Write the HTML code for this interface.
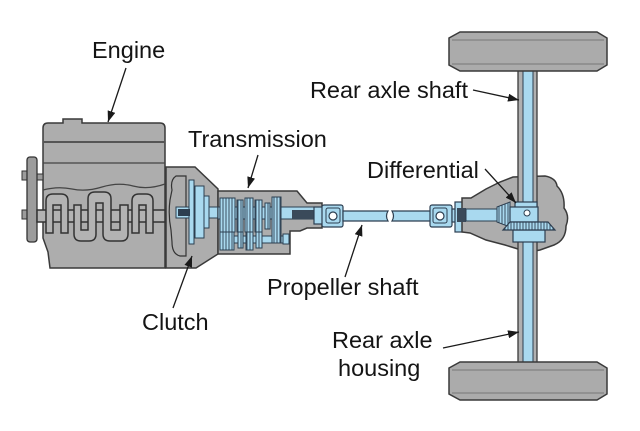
<!DOCTYPE html>
<html><head><meta charset="utf-8"><style>
html,body{margin:0;padding:0;background:#fff;}
svg{display:block;}
text{font-family:"Liberation Sans",Arial,sans-serif;font-size:23.5px;fill:#141414;}
</style></head><body>
<svg width="640" height="431" viewBox="0 0 640 431" xmlns="http://www.w3.org/2000/svg">
<defs>
<marker id="ah" markerUnits="userSpaceOnUse" markerWidth="12" markerHeight="8" refX="11" refY="4" orient="auto"><path d="M0,0 L11,4 L0,8 Z" fill="#1a1a1a"/></marker>
<pattern id="hatch" width="3" height="3" patternUnits="userSpaceOnUse"><rect width="3" height="3" fill="#a9d9ef"/><line x1="1" y1="0" x2="1" y2="3" stroke="#2c3e50" stroke-width="0.9"/></pattern>
</defs>
<rect width="640" height="431" fill="#fff"/>

<!-- ENGINE -->
<path d="M43,128 Q43,123 48,123 L63,123 L63,119 L82,119 L82,123 L160,123 Q165,123 165,128 L165,268 L50,268 L48,252 L43,238 Z" fill="#adadad" stroke="#3a3a3a" stroke-width="1.5"/>
<line x1="43" y1="142" x2="165" y2="142" stroke="#555" stroke-width="2"/>
<line x1="43" y1="163" x2="165" y2="163" stroke="#444" stroke-width="1.3"/>
<path d="M43,190 Q58,186 72,189 T102,187 T133,186 T165,184" fill="none" stroke="#444" stroke-width="1.2"/>
<!-- pulley -->
<rect x="37" y="174" width="6" height="6" fill="#9c9c9c" stroke="#333" stroke-width="1"/>
<rect x="22" y="171" width="6" height="9" fill="#9c9c9c" stroke="#333" stroke-width="1"/>
<rect x="22" y="210" width="6" height="9" fill="#9c9c9c" stroke="#333" stroke-width="1"/>
<rect x="27" y="157" width="10" height="85" rx="3" fill="#9c9c9c" stroke="#333" stroke-width="1.3"/>
<!-- crankshaft -->
<g fill="#b3b3b3" stroke="#333" stroke-width="1.5">
<rect x="37" y="210" width="128" height="12"/>
<path d="M46,233 L46,201 Q46,194 53,194 L61,194 Q68,194 68,201 L68,233 L61,233 L61,205 L53,205 L53,233 Z"/>
<path d="M74,205 L81,205 L81,230 L88,230 L88,199 Q88,192 95,192 L104,192 Q111,192 111,199 L111,230 L120,230 L120,205 L128,205 L128,234 Q128,241 121,241 L110,241 Q103,241 103,234 L103,203 L96,203 L96,234 Q96,241 89,241 L81,241 Q74,241 74,234 Z"/>
<path d="M132,233 L132,201 Q132,194 139,194 L146,194 Q153,194 153,201 L153,233 L146,233 L146,205 L139,205 L139,233 Z"/>
</g>

<!-- BELLHOUSING -->
<path d="M166,167 L195,167 L218,189 L218,254 L196,268 L166,268 Z" fill="#adadad" stroke="#3a3a3a" stroke-width="1.5"/>
<path d="M176,176 Q170,180 172,190 L170,200 Q168,215 171,230 L172,242 Q172,254 180,256 L186,256 L186,176 Z" fill="none" stroke="#333" stroke-width="1.2"/>
<!-- clutch -->
<g fill="#a9d9ef" stroke="#2c3e50" stroke-width="1">
<rect x="176" y="207" width="45" height="11"/>
<rect x="189" y="180" width="5" height="64"/>
<rect x="195" y="186" width="9" height="52"/>
<rect x="204" y="196" width="5" height="32"/>
</g>
<rect x="178" y="209" width="12" height="7" fill="#2c3e50"/>

<!-- TRANSMISSION -->
<path d="M218,191 L297,191 L307,203 L322,203 L322,228 L307,228 L300,231 L290,231 L290,254 L218,254 Z" fill="#adadad" stroke="#3a3a3a" stroke-width="1.5"/>
<g fill="#a9d9ef" stroke="#2c3e50" stroke-width="1">
<rect x="218" y="207" width="96" height="12"/>
<rect x="220" y="236" width="66" height="7"/>
<rect x="283" y="234" width="6" height="10"/>
</g>
<rect x="292" y="210" width="22" height="9" fill="#3a4a5a"/>
<g fill="url(#hatch)" stroke="#2c3e50" stroke-width="1">
<rect x="220" y="198" width="15" height="34"/>
<rect x="237" y="200" width="6" height="32"/>
<rect x="245" y="198" width="8" height="34"/>
<rect x="255" y="200" width="7" height="32"/>
<rect x="265" y="203" width="5" height="26"/>
<rect x="272" y="197" width="9" height="46"/>
<rect x="220" y="232" width="14" height="18"/>
<rect x="238" y="232" width="5" height="16"/>
<rect x="246" y="232" width="7" height="18"/>
<rect x="256" y="232" width="6" height="16"/>
</g>

<!-- PROPELLER SHAFT -->
<g fill="#a9d9ef" stroke="#2c3e50" stroke-width="1.2">
<rect x="314" y="207" width="9" height="17"/>
<rect x="322" y="205" width="21" height="22" rx="2"/>
<path d="M343,211 L388,211 Q385,216 388,221 L343,221 Z"/>
<path d="M392,211 L431,211 L431,221 L392,221 Q395,216 392,211 Z"/>
<rect x="430" y="205" width="22" height="22" rx="2"/>
<rect x="452" y="209" width="4" height="13"/>
<rect x="455" y="202" width="11" height="30"/>
</g>
<rect x="326" y="208" width="14" height="15" rx="2" fill="none" stroke="#2c3e50" stroke-width="1"/>
<rect x="433" y="208" width="14" height="15" rx="2" fill="none" stroke="#2c3e50" stroke-width="1"/>
<circle cx="333" cy="216" r="4" fill="#fff" stroke="#2c3e50" stroke-width="1.2"/>
<circle cx="440" cy="216" r="4" fill="#fff" stroke="#2c3e50" stroke-width="1.2"/>

<!-- DIFF HOUSING -->
<path d="M462,198 L471,198 L486,189 L500,182 L513,177 L545,176 Q556,178 557,186 Q565,194 564,208 Q570,216 566,226 Q566,240 554,245 L540,250 Q528,253 518,249 L505,245 L486,240 L470,233 L462,232 Z" fill="#adadad" stroke="#3a3a3a" stroke-width="1.5"/>
<rect x="457" y="208" width="9" height="14" fill="#3a4a5a"/>
<rect x="466" y="209" width="31" height="12" fill="#a9d9ef" stroke="#2c3e50" stroke-width="1"/>

<!-- AXLE -->
<rect x="518" y="70" width="19" height="293" fill="#b0b0b0" stroke="#3a3a3a" stroke-width="1.3"/>
<rect x="523" y="70" width="10" height="293" fill="#a9d9ef" stroke="#2c3e50" stroke-width="1"/>

<!-- DIFF INTERNALS -->
<path d="M497,207 L510,202 L510,227 L497,222 Z" fill="url(#hatch)" stroke="#2c3e50" stroke-width="1"/>
<g fill="#a9d9ef" stroke="#2c3e50" stroke-width="1.2">
<rect x="515" y="202" width="22" height="6"/>
<rect x="510" y="207" width="28" height="15"/>
<rect x="513" y="230" width="32" height="12"/>
</g>
<path d="M503,230 L510,222 L548,222 L555,230 Z" fill="url(#hatch)" stroke="#2c3e50" stroke-width="1.2"/>
<circle cx="527" cy="213" r="3" fill="#fff" stroke="#2c3e50" stroke-width="1"/>

<!-- WHEELS -->
<g fill="#ababab" stroke="#3a3a3a" stroke-width="1.5">
<path d="M449,38 L460,32 L597,32 L607,38 L607,65 L597,71 L460,71 L449,65 Z"/>
<path d="M449,368 L460,362 L597,362 L607,368 L607,394 L597,400 L460,400 L449,394 Z"/>
</g>
<g stroke="#777" stroke-width="1">
<line x1="452" y1="40" x2="604" y2="40"/><line x1="452" y1="64" x2="604" y2="64"/>
<line x1="452" y1="370" x2="604" y2="370"/><line x1="452" y1="393" x2="604" y2="393"/>
</g>

<!-- LEADER LINES -->
<g stroke="#1a1a1a" stroke-width="1.3" fill="none" marker-end="url(#ah)">
<line x1="126" y1="68" x2="108" y2="122"/>
<line x1="258" y1="155" x2="248" y2="188"/>
<line x1="173" y1="308" x2="192" y2="256"/>
<line x1="345" y1="277" x2="362" y2="225"/>
<line x1="473" y1="90" x2="519" y2="100"/>
<line x1="485" y1="169" x2="516" y2="203"/>
<line x1="443" y1="348" x2="519" y2="332"/>
</g>

<!-- LABELS -->
<text x="92" y="58">Engine</text>
<text x="188" y="147">Transmission</text>
<text x="468" y="98" text-anchor="end">Rear axle shaft</text>
<text x="367" y="178">Differential</text>
<text x="267" y="295">Propeller shaft</text>
<text x="142" y="330">Clutch</text>
<text x="332" y="348">Rear axle</text>
<text x="338" y="376">housing</text>
</svg>
</body></html>
